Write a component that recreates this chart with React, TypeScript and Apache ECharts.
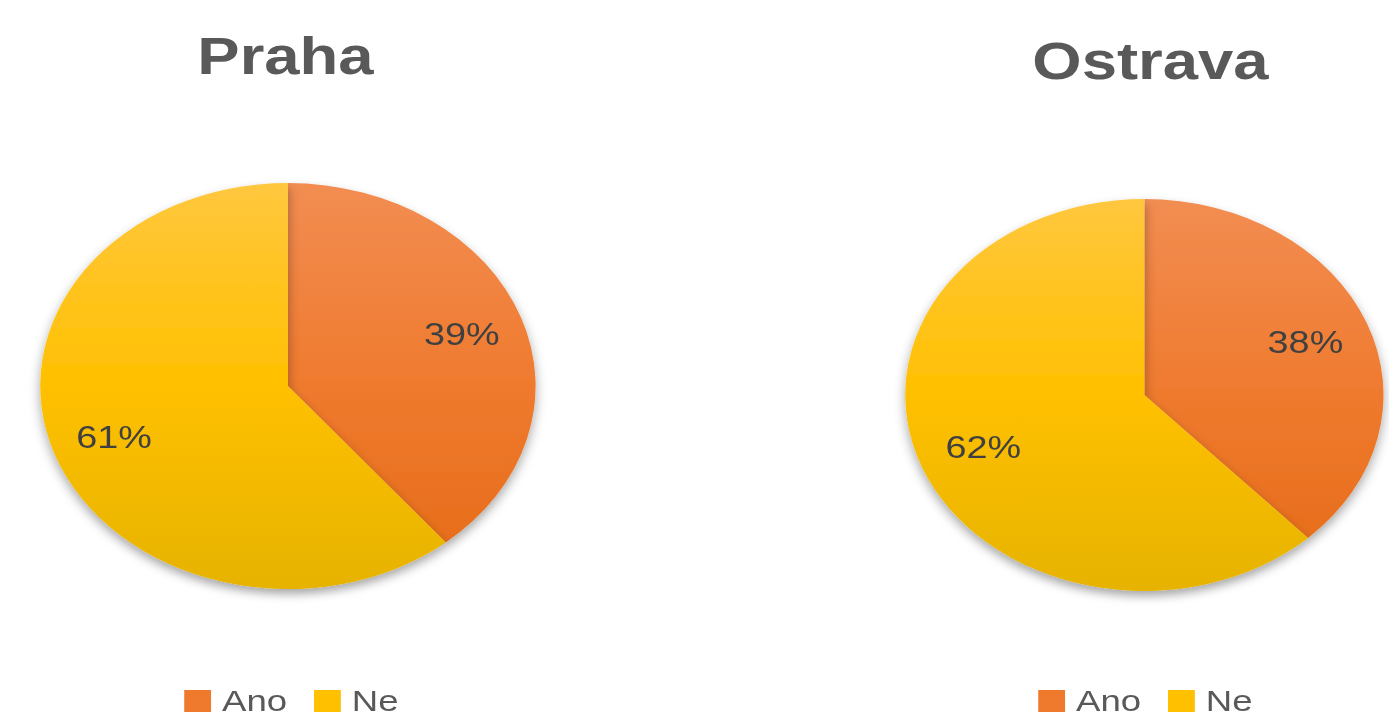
import React, { useEffect, useRef } from "react";
import * as echarts from "echarts";

const categories = ["Ano", "Ne"];
const prahaValues = [39, 61];
const ostravaValues = [38, 62];
const titles = ["Praha", "Ostrava"];

const SX = 1.22;
const W = 1139;
const H = 718;

const P = { cx: 236, cy: 386, r: 203 };
const O = { cx: 938, cy: 395, r: 196 };

function grad(cy: number, r: number, top: string, mid: string, bottom: string) {
  return new echarts.graphic.LinearGradient(
    0, cy - r, 0, cy + r,
    [
      { offset: 0, color: top },
      { offset: 0.5, color: mid },
      { offset: 1, color: bottom },
    ],
    true
  );
}

function pieData(values: number[], g: { cx: number; cy: number; r: number }) {
  const colors = [
    grad(g.cy, g.r, "#F28D52", "#EF7A2E", "#E56A16"),
    grad(g.cy, g.r, "#FFC73E", "#FFC000", "#E6B300"),
  ];
  return categories.map((name, i) => ({
    name,
    value: values[i],
    itemStyle: { color: colors[i] },
  }));
}

function shapeSeries(values: number[], g: { cx: number; cy: number; r: number }) {
  return {
    type: "pie",
    center: [g.cx, g.cy],
    radius: [0, g.r],
    startAngle: 90,
    clockwise: true,
    label: { show: false },
    labelLine: { show: false },
    itemStyle: {
      borderWidth: 0,
      shadowBlur: 10,
      shadowOffsetY: 5,
      shadowColor: "rgba(0,0,0,0.35)",
    },
    emphasis: { disabled: true },
    data: pieData(values, g),
  };
}

function labelSeries(values: number[], g: { cx: number; cy: number; r: number }, inner: number) {
  return {
    type: "pie",
    center: [g.cx, g.cy],
    radius: [inner, g.r],
    startAngle: 90,
    clockwise: true,
    silent: true,
    legendHoverLink: false,
    itemStyle: { color: "rgba(0,0,0,0)", borderWidth: 0 },
    label: {
      show: true,
      position: "inside",
      formatter: "{c}%",
      color: "#404040",
      fontSize: 31,
      fontFamily: "Liberation Sans",
    },
    labelLine: { show: false },
    emphasis: { disabled: true },
    data: categories.map((name, i) => ({ name, value: values[i] })),
  };
}

const legendColors = ["#EF7A2E", "#FFC000"];

export default function App() {
  const ref = useRef<HTMLDivElement>(null);
  useEffect(() => {
    if (!ref.current) return;
    const chart = echarts.init(ref.current, undefined, { renderer: "svg" });
    const legendBase = {
      data: categories.map((name, i) => ({ name, itemStyle: { color: legendColors[i] } })),
      icon: "rect",
      itemWidth: 22,
      itemHeight: 22,
      itemGap: 22,
      selectedMode: false,
      orient: "horizontal",
      padding: 0,
      textStyle: {
        color: "#595959",
        fontSize: 30,
        lineHeight: 30,
        fontFamily: "Liberation Sans",
        padding: [0, 0, 0, 4],
      },
    };
    chart.setOption({
      animation: false,
      backgroundColor: "#ffffff",
      legend: [
        { ...legendBase, left: 151, top: 686 },
        { ...legendBase, left: 851, top: 686 },
      ],
      graphic: [
        {
          type: "text",
          style: {
            text: titles[0],
            x: 234,
            y: 56,
            align: "center",
            verticalAlign: "middle",
            fill: "#595959",
            font: "bold 52px 'Liberation Sans'",
          },
        },
        {
          type: "text",
          style: {
            text: titles[1],
            x: 943,
            y: 61,
            align: "center",
            verticalAlign: "middle",
            fill: "#595959",
            font: "bold 52px 'Liberation Sans'",
          },
        },
      ],
      series: [
        shapeSeries(prahaValues, P),
        shapeSeries(ostravaValues, O),
        labelSeries(prahaValues, P, 94),
        labelSeries(ostravaValues, O, 82),
      ],
    });
    return () => chart.dispose();
  }, []);
  return (
    <div
      style={{
        position: "absolute",
        left: 0,
        top: 0,
        width: 1389,
        height: H,
        overflow: "hidden",
        background: "#fff",
      }}
    >
      <div
        ref={ref}
        style={{
          width: W,
          height: H,
          transform: `scaleX(${SX})`,
          transformOrigin: "0 0",
        }}
      />
    </div>
  );
}
